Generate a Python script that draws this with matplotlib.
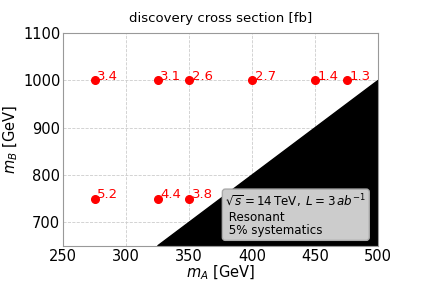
import numpy as np
import matplotlib
matplotlib.use("Agg")
import matplotlib.pyplot as plt

# data points (m_A, m_B, discovery cross section)
mA = [275, 325, 350, 400, 450, 475, 275, 325, 350]
mB = [1000, 1000, 1000, 1000, 1000, 1000, 750, 750, 750]
xsec = ["3.4", "3.1", "2.6", "2.7", "1.4", "1.3", "5.2", "4.4", "3.8"]

# kinematically excluded region: m_B < 2 m_A
edge_x = [325, 500, 500]
edge_y = [650, 1000, 650]

fig, ax = plt.subplots(figsize=(4.21, 2.81), dpi=100)
fig.subplots_adjust(left=0.15, right=0.898, top=0.882, bottom=0.125)

ax.fill(edge_x, edge_y, color="black", zorder=2)
ax.plot(mA, mB, "o", color="red", markersize=5.5, zorder=3)
for x, y, s in zip(mA, mB, xsec):
    ax.text(x + 2, y + 1, s, color="red", fontsize=9.5, zorder=4)

ax.set_xlim(250, 500)
ax.set_ylim(650, 1100)
ax.set_xticks([250, 300, 350, 400, 450, 500])
ax.set_yticks([700, 800, 900, 1000, 1100])
ax.tick_params(labelsize=10.5, length=0, pad=2)
ax.grid(True, linestyle="--", color="#cccccc", linewidth=0.6, zorder=0)
for sp in ax.spines.values():
    sp.set_color("#999999")

ax.set_xlabel(r"$m_A$ [GeV]", fontsize=10.5, labelpad=0)
ax.set_ylabel(r"$m_B$ [GeV]", fontsize=10.5, labelpad=2)
ax.set_title("discovery cross section [fb]", fontsize=9.5, pad=8)

ax.text(0.515, 0.04,
        "$\\sqrt{s}=14\\,\\mathrm{TeV},\\ L=3\\,ab^{-1}$\n Resonant\n 5% systematics",
        transform=ax.transAxes, fontsize=8.6, va="bottom", ha="left", zorder=5,
        linespacing=1.05,
        bbox=dict(boxstyle="round,pad=0.25", facecolor="#cccccc", edgecolor="#aaaaaa"))

fig.savefig("out.png", dpi=100)
